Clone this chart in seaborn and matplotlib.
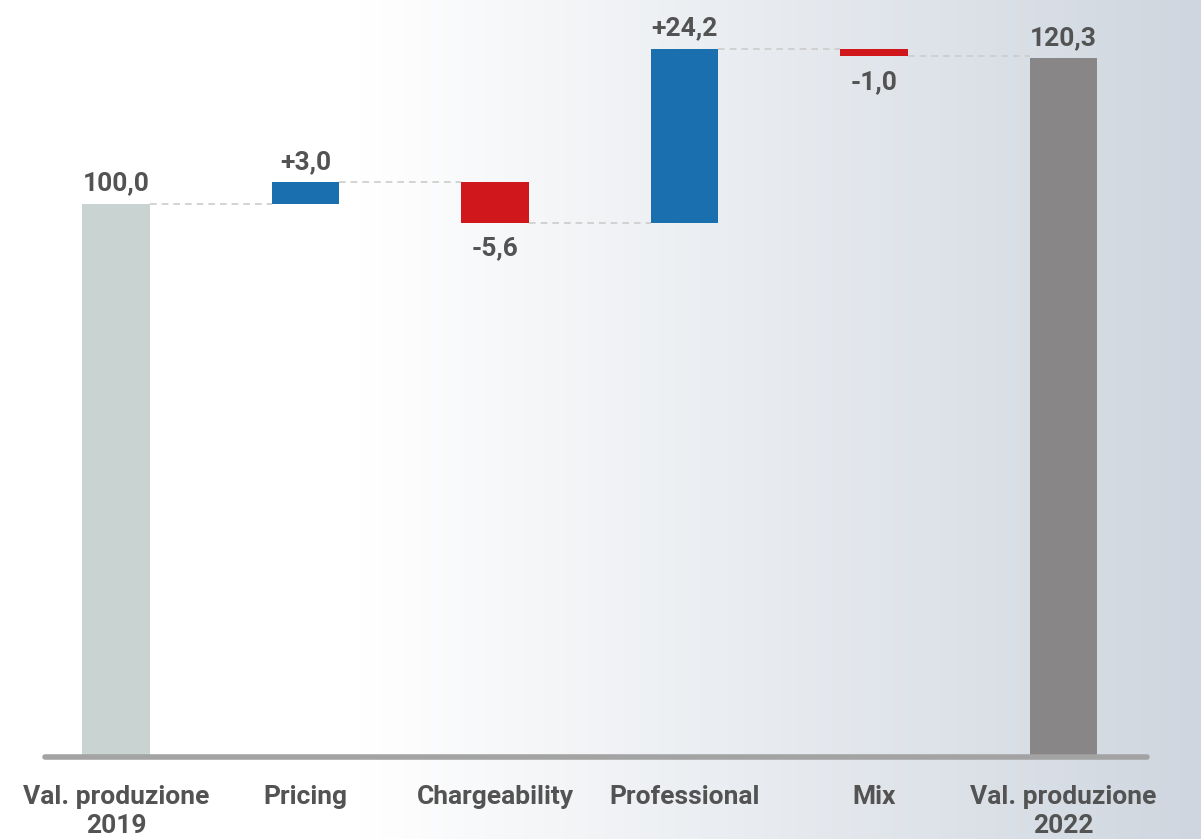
import numpy as np
import matplotlib
matplotlib.use("Agg")
import matplotlib.pyplot as plt
import seaborn as sns

# dati del waterfall
categories = ["Val. produzione\n2019", "Pricing", "Chargeability", "Professional", "Mix", "Val. produzione\n2022"]
start_value = 100.0
deltas = [3.0, -5.6, 24.2, -1.0]
end_value = 120.3
value_labels = ["100,0", "+3,0", "-5,6", "+24,2", "-1,0", "120,3"]
bar_colors = ["#c9d3d1", "#1a6fae", "#d0171b", "#1a6fae", "#d0171b", "#898688"]

sns.set_theme(style="white")
plt.rcParams['font.family'] = ['Roboto', 'DejaVu Sans']
text_color = "#535353"

# basi e altezze
bottoms = [0.0]
tops = [start_value]
level = start_value
for d in deltas:
    new = level + d
    bottoms.append(min(level, new))
    tops.append(max(level, new))
    level = new
bottoms.append(0.0)
tops.append(end_value)
heights = [t - b for t, b in zip(tops, bottoms)]

fig = plt.figure(figsize=(12.01, 8.39), dpi=100)

# sfondo sfumato
bg = fig.add_axes([0, 0, 1, 1], zorder=0)
xs = np.linspace(0, 1, 600)
t = np.clip((xs - 0.3) / 0.7, 0, 1)
c0 = np.array([1.0, 1.0, 1.0])
c1 = np.array([207, 214, 223]) / 255
grad = (c0[None, :] * (1 - t[:, None]) + c1[None, :] * t[:, None])[None, :, :]
bg.imshow(grad, aspect="auto", extent=[0, 1, 0, 1])
bg.axis("off")

ax = fig.add_axes([45 / 1201, 1 - 757 / 839, (1147 - 45) / 1201, 757 / 839], zorder=1)
ax.patch.set_alpha(0)

sns.barplot(x=categories, y=heights, hue=categories, palette=bar_colors,
            legend=False, width=0.355, saturation=1, linewidth=0, ax=ax)
for p, b in zip(ax.patches, bottoms):
    p.set_y(b)

ymin = 23.0
ax.set_ylim(ymin, 128.4)
ax.set_xlim(-0.374, 5.44)

# connettori tratteggiati
levels = [start_value]
lv = start_value
for d in deltas:
    lv += d
    levels.append(lv)
half = 0.355 / 2
for i, lv in enumerate(levels):
    ax.plot([i + half, i + 1 - half], [lv, lv], color="#cccccc", lw=1.2,
            ls=(0, (4, 3)), zorder=0)

# etichette valori
for i, lab in enumerate(value_labels):
    if i in (2, 4):
        ax.annotate(lab, (i, bottoms[i]), xytext=(0, -10), textcoords="offset points",
                    ha="center", va="top", fontsize=19, fontweight="bold", color=text_color)
    else:
        ax.annotate(lab, (i, tops[i]), xytext=(0, 6), textcoords="offset points",
                    ha="center", va="bottom", fontsize=19, fontweight="bold", color=text_color)

# asse
for s in ["top", "right", "left", "bottom"]:
    ax.spines[s].set_visible(False)
ax.plot([-0.374, 5.44], [ymin, ymin], color="#a3a3a3", lw=4, solid_capstyle="round",
        clip_on=False, zorder=3)
ax.set_yticks([])
ax.tick_params(axis="x", length=0, pad=20)
for lab in ax.get_xticklabels():
    lab.set_fontsize(19)
    lab.set_fontweight("bold")
    lab.set_color(text_color)
    lab.set_linespacing(1.3)
    lab.set_verticalalignment("top")
ax.set_xlabel("")
ax.set_ylabel("")

fig.savefig("out.png", dpi=100)
